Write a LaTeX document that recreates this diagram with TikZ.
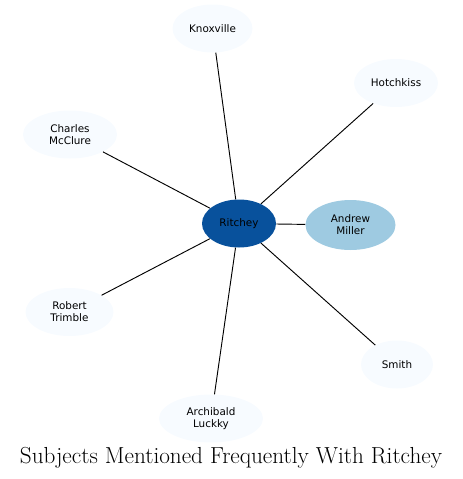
\documentclass[tikz,border=0pt]{standalone}
\usepackage{fontspec}
\usepackage{xcolor}
\usepackage{tikz}
\usetikzlibrary{shapes.geometric}
\newfontfamily\subjfont{DejaVu Sans}
\definecolor{hubblue}{HTML}{08519C}
\definecolor{nearblue}{HTML}{9ECAE1}
\definecolor{farblue}{HTML}{F7FBFF}

\begin{document}
\begin{tikzpicture}[x=0.75pt, y=-0.75pt,
  subject/.style={ellipse, fill=farblue, inner sep=0pt, minimum height=36pt, align=center, font=\subjfont\fontsize{7.8}{9}\selectfont},
  line/.style={draw, line width=0.7pt}]
  \useasboundingbox (0,0) rectangle (463,479);
  \node [subject, fill=hubblue, minimum width=55.5pt] (ritchey) at (239,223.5) {Ritchey};
  \node [subject, fill=nearblue, minimum width=67.5pt, minimum height=37.5pt] (miller) at (350.5,225) {Andrew\\Miller};
  \node [subject, minimum width=60pt] (knoxville) at (212.5,28.5) {Knoxville};
  \node [subject, minimum width=63pt] (hotchkiss) at (396,83) {Hotchkiss};
  \node [subject, minimum width=70.5pt] (mcclure) at (70,134.5) {Charles\\McClure};
  \node [subject, minimum width=66pt] (trimble) at (69.5,312) {Robert\\Trimble};
  \node [subject, minimum width=78pt] (luckky) at (211,418.5) {Archibald\\Luckky};
  \node [subject, minimum width=54pt] (smith) at (397,364.5) {Smith};
  \node [anchor=base, font=\fontsize{17.4}{20}\selectfont] (title) at (231,463) {Subjects Mentioned Frequently With Ritchey};
  \path [line] (ritchey) -- (miller);
  \path [line] (ritchey) -- (knoxville);
  \path [line] (ritchey) -- (hotchkiss);
  \path [line] (ritchey) -- (mcclure);
  \path [line] (ritchey) -- (trimble);
  \path [line] (ritchey) -- (luckky);
  \path [line] (ritchey) -- (smith);
\end{tikzpicture}
\end{document}
